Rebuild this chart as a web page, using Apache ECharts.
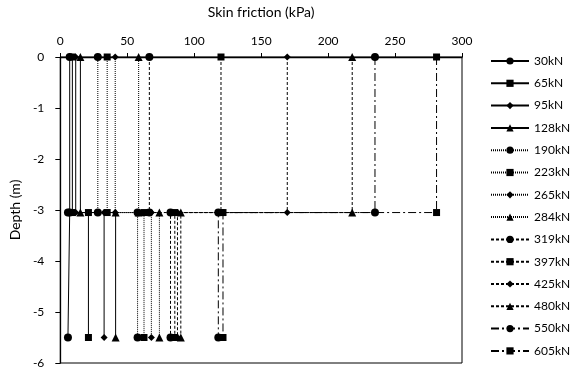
<!DOCTYPE html>
<html>
<head>
<meta charset="utf-8">
<script src="https://cdn.jsdelivr.net/npm/echarts@6/dist/echarts.min.js"></script>
<style>
  html, body { margin: 0; padding: 0; background: #fff; }
  #chart { width: 574px; height: 373px; }
</style>
</head>
<body>
<div id="chart"></div>
<script>
// Load steps applied at the pile head
const loads = ['30kN', '65kN', '95kN', '128kN', '190kN', '223kN', '265kN',
               '284kN', '319kN', '397kN', '425kN', '480kN', '550kN', '605kN'];

// Skin friction (kPa) in the upper segment (0 m to the mid gauge)
const upperFriction = [7, 9, 11.5, 15, 28, 35, 41, 58.5, 66.5, 120, 169.5, 218, 235, 281];

// Skin friction (kPa) in the lower segment (mid gauge to the toe)
const lowerFriction = [5.7, 21, 32.7, 41.3, 57.7, 62.5, 68, 74, 82.3, 85.5, 87.5, 90, 118, 121.5];

// Gauge depths (m)
const headDepth = 0;
const midDepth = -3.05;
const toeDepth = -5.5;

// Axis ticks
const frictionTicks = { min: 0, max: 300, step: 50 };
const depthTicks = { min: -6, max: 0, step: 1 };

const symbols = ['circle', 'rect', 'diamond', 'triangle'];
const symbolSizes = { circle: 8, rect: 7, diamond: 7, triangle: 8 };

function lineFor(i) {
  if (i < 4) return { type: 'solid', width: 1 };
  if (i < 8) return { type: [1, 1], width: 1 };
  if (i < 12) return { type: [3, 2], width: 1 };
  return { type: [8, 3, 2, 3], width: 1 };
}

const font = 'Lato, "Open Sans", sans-serif';

const series = loads.map((name, i) => {
  const sym = symbols[i % 4];
  return {
    name: name,
    type: 'line',
    symbol: sym,
    symbolSize: symbolSizes[sym],
    itemStyle: { color: '#000' },
    lineStyle: Object.assign({ color: '#000' }, lineFor(i)),
    emphasis: { disabled: true },
    animation: false,
    data: [
      [upperFriction[i], headDepth],
      [upperFriction[i], midDepth],
      [lowerFriction[i], midDepth],
      [lowerFriction[i], toeDepth]
    ]
  };
});

const chart = echarts.init(document.getElementById('chart'), null, { renderer: 'canvas' });
chart.setOption({
  backgroundColor: '#fff',
  animation: false,
  textStyle: { fontFamily: font, color: '#000' },
  grid: {
    left: 55, right: 112, top: 56, bottom: 10,
    show: true, borderColor: '#000', borderWidth: 1, backgroundColor: 'transparent'
  },
  xAxis: {
    type: 'value',
    position: 'top',
    min: frictionTicks.min, max: frictionTicks.max, interval: frictionTicks.step,
    name: 'Skin friction (kPa)',
    nameLocation: 'middle',
    nameGap: 38,
    nameTextStyle: { fontFamily: font, fontSize: 14, color: '#000' },
    axisLine: { show: true, lineStyle: { color: '#000', width: 1.3 } },
    axisTick: { show: true, inside: false, length: 4, lineStyle: { color: '#000' } },
    axisLabel: { fontFamily: font, fontSize: 12, color: '#000', margin: 10 },
    splitLine: { show: false }
  },
  yAxis: {
    type: 'value',
    min: depthTicks.min, max: depthTicks.max, interval: depthTicks.step,
    name: 'Depth (m)',
    nameLocation: 'middle',
    nameGap: 31,
    nameTextStyle: { fontFamily: font, fontSize: 14, color: '#000' },
    axisLine: { show: true, lineStyle: { color: '#000', width: 1.3 } },
    axisTick: { show: true, inside: false, length: 5, lineStyle: { color: '#000' } },
    axisLabel: { fontFamily: font, fontSize: 12, color: '#000', margin: 16 },
    splitLine: { show: false }
  },
  legend: {
    orient: 'vertical',
    left: 485,
    top: 49,
    itemWidth: 38,
    itemHeight: 9,
    itemGap: 8.3,
    textStyle: { fontFamily: font, fontSize: 12, color: '#000', lineHeight: 14 },
    selectedMode: false,
    data: loads
  },
  series: series
});
</script>
</body>
</html>
